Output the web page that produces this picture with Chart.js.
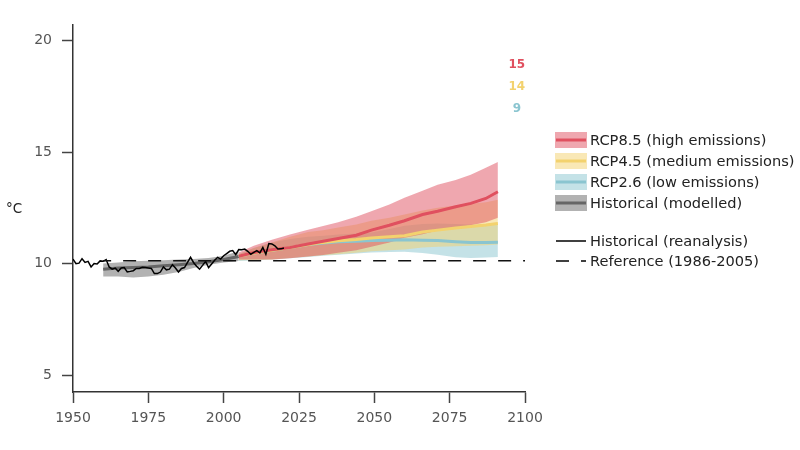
<!DOCTYPE html>
<html>
<head>
<meta charset="utf-8">
<script src="https://cdn.jsdelivr.net/npm/chart.js@4"></script>
<style>
    html, body { margin: 0; padding: 0; background: #fff; }
    canvas { display: block; }
</style>
</head>
<body>
<canvas id="chart" width="800" height="450"></canvas>
<script>
const xTickLabels = [1950, 1975, 2000, 2025, 2050, 2075, 2100];
const yTickLabels = [5, 10, 15, 20];

const reanalysisStart = 1950;
const reanalysis = [10.2, 10.0, 10.02, 10.22, 10.05, 10.1, 9.85, 10.0, 9.98, 10.12,
    10.1, 10.18, 9.85, 9.75, 9.8, 9.65, 9.8, 9.82, 9.63, 9.65,
    9.68, 9.78, 9.78, 9.83, 9.82, 9.8, 9.78, 9.55, 9.55, 9.62,
    9.85, 9.72, 9.75, 9.95, 9.8, 9.62, 9.78, 9.82, 10.05, 10.28,
    10.05, 9.88, 9.75, 9.92, 10.1, 9.82, 9.98, 10.15, 10.28, 10.2,
    10.35, 10.45, 10.55, 10.58, 10.4, 10.63, 10.62, 10.65, 10.55, 10.42,
    10.5, 10.58, 10.48, 10.72, 10.42, 10.9, 10.88, 10.8, 10.65, 10.66, 10.7];

const histYears = [1960, 1965, 1970, 1975, 1980, 1985, 1990, 1995, 2000, 2005];
const histMean = [9.75, 9.8, 9.82, 9.85, 9.9, 9.95, 10.0, 10.08, 10.18, 10.32];
const histUpper = [10.0, 10.05, 10.1, 10.13, 10.15, 10.18, 10.2, 10.25, 10.35, 10.55];
const histLower = [9.42, 9.42, 9.38, 9.42, 9.5, 9.62, 9.8, 9.95, 10.05, 10.12];

const rcpYears = [2005, 2010, 2016, 2022, 2028, 2033, 2038, 2044, 2049, 2055, 2060, 2066, 2071, 2077, 2082, 2087, 2091];
const rcp85Mean = [10.33, 10.5, 10.62, 10.72, 10.88, 11.0, 11.12, 11.27, 11.5, 11.72, 11.92, 12.2, 12.35, 12.55, 12.7, 12.92, 13.22];
const rcp85Upper = [10.5, 10.8, 11.07, 11.3, 11.52, 11.68, 11.85, 12.1, 12.35, 12.65, 12.95, 13.27, 13.53, 13.75, 13.98, 14.3, 14.56];
const rcp85Lower = [10.18, 10.18, 10.18, 10.24, 10.32, 10.38, 10.48, 10.6, 10.76, 10.95, 11.16, 11.32, 11.48, 11.62, 11.72, 11.85, 12.05];
const rcp45Mean = [10.33, 10.47, 10.6, 10.72, 10.85, 10.95, 11.02, 11.08, 11.15, 11.2, 11.25, 11.42, 11.5, 11.6, 11.66, 11.73, 11.8];
const rcp45Upper = [10.42, 10.7, 10.95, 11.2, 11.42, 11.5, 11.62, 11.75, 11.92, 12.05, 12.2, 12.38, 12.5, 12.6, 12.68, 12.75, 12.86];
const rcp45Lower = [10.15, 10.16, 10.18, 10.25, 10.32, 10.37, 10.42, 10.48, 10.55, 10.6, 10.63, 10.72, 10.76, 10.78, 10.8, 10.82, 10.85];
const rcp26Mean = [10.33, 10.47, 10.6, 10.72, 10.85, 10.92, 10.98, 11.0, 11.03, 11.05, 11.07, 11.05, 11.03, 10.98, 10.94, 10.94, 10.96];
const rcp26Upper = [10.42, 10.7, 10.95, 11.1, 11.2, 11.25, 11.3, 11.35, 11.39, 11.55, 11.7, 11.78, 11.8, 11.78, 11.75, 11.75, 11.75];
const rcp26Lower = [10.12, 10.14, 10.18, 10.24, 10.3, 10.35, 10.4, 10.45, 10.5, 10.52, 10.53, 10.47, 10.4, 10.28, 10.25, 10.27, 10.3];

const referenceYears = [1960, 2100];
const referenceValues = [10.13, 10.13];

const modelCounts = ['15', '14', '9'];
const countYears = [2097.3, 2097.3, 2097.3];
const countValues = [18.92, 17.92, 16.92];

const red = '#e0505f', redBand = 'rgba(224,80,95,0.5)';
const yellow = '#f3d26e', yellowBand = 'rgba(243,210,110,0.5)';
const teal = '#8ac5d0', tealBand = 'rgba(138,197,208,0.5)';
const grey = '#666666', greyBand = 'rgba(102,102,102,0.5)';
const countColors = [red, yellow, teal];

const legendRows = [
    { label: 'RCP8.5 (high emissions)', y: 140, band: redBand, line: red },
    { label: 'RCP4.5 (medium emissions)', y: 161, band: yellowBand, line: yellow },
    { label: 'RCP2.6 (low emissions)', y: 182, band: tealBand, line: teal },
    { label: 'Historical (modelled)', y: 203, band: greyBand, line: grey },
    { label: 'Historical (reanalysis)', y: 241, line: '#000', thin: true },
    { label: 'Reference (1986-2005)', y: 261, line: '#000', thin: true, dash: [13, 12] }
];

const font = '"DejaVu Sans"';
const tickGrey = '#444';
const labelGrey = '#555';

function points(years, values) {
    return years.map((year, i) => ({ x: year, y: values[i] }));
}

function bandSets(years, upper, lower, color) {
    return [
        { data: points(years, upper), borderWidth: 0, pointRadius: 0, backgroundColor: color, fill: '+1' },
        { data: points(years, lower), borderWidth: 0, pointRadius: 0, fill: false }
    ];
}

function meanSet(years, values, color) {
    return { data: points(years, values), borderColor: color, borderWidth: 3, pointRadius: 0, fill: false, tension: 0 };
}

const overlayPlugin = {
    id: 'overlay',
    afterDraw(chart) {
        const { ctx, scales } = chart;
        ctx.save();

        // model counts
        ctx.font = 'bold 12px ' + font;
        ctx.textAlign = 'center';
        ctx.textBaseline = 'middle';
        modelCounts.forEach((text, i) => {
            ctx.fillStyle = countColors[i];
            ctx.fillText(text, scales.x.getPixelForValue(countYears[i]), scales.y.getPixelForValue(countValues[i]));
        });

        // legend
        ctx.font = '14.6px ' + font;
        ctx.textAlign = 'left';
        legendRows.forEach(row => {
            if (row.band) {
                ctx.fillStyle = row.band;
                ctx.fillRect(555, row.y - 8, 32, 16);
            }
            ctx.strokeStyle = row.line;
            ctx.lineWidth = row.thin ? 1.5 : 3;
            ctx.setLineDash(row.dash || []);
            ctx.beginPath();
            ctx.moveTo(556, row.y);
            ctx.lineTo(586, row.y);
            ctx.stroke();
            ctx.setLineDash([]);
            ctx.fillStyle = '#222';
            ctx.fillText(row.label, 590, row.y + 1);
        });

        // y unit
        ctx.fillStyle = '#222';
        ctx.font = '13.5px ' + font;
        ctx.textAlign = 'center';
        ctx.fillText('°C', 14, 209);
        ctx.restore();
    }
};

new Chart(document.getElementById('chart').getContext('2d'), {
    type: 'line',
    data: {
        datasets: [
            { data: points(referenceYears, referenceValues), borderColor: '#111', borderWidth: 1.5, borderDash: [13, 12], borderDashOffset: 5, pointRadius: 0, fill: false },
            { data: reanalysis.map((v, i) => ({ x: reanalysisStart + i, y: v })), borderColor: '#000', borderWidth: 1.5, pointRadius: 0, fill: false },
            meanSet(rcpYears, rcp85Mean, red),
            meanSet(rcpYears, rcp45Mean, yellow),
            meanSet(rcpYears, rcp26Mean, teal),
            meanSet(histYears, histMean, grey),
            ...bandSets(rcpYears, rcp85Upper, rcp85Lower, redBand),
            ...bandSets(rcpYears, rcp45Upper, rcp45Lower, yellowBand),
            ...bandSets(rcpYears, rcp26Upper, rcp26Lower, tealBand),
            ...bandSets(histYears, histUpper, histLower, greyBand)
        ]
    },
    options: {
        responsive: false,
        animation: false,
        layout: { padding: { top: 25, right: 275, left: 0, bottom: 0 } },
        plugins: { legend: { display: false }, tooltip: { enabled: false } },
        scales: {
            x: {
                type: 'linear',
                min: 1950,
                max: 2100,
                afterBuildTicks: scale => { scale.ticks = xTickLabels.map(v => ({ value: v })); },
                afterFit: scale => { scale.height = 58; },
                border: { color: '#333', width: 1.5 },
                grid: { drawOnChartArea: false, tickColor: tickGrey, tickLength: 11, tickWidth: 1.5 },
                ticks: { color: labelGrey, font: { family: font, size: 14 }, maxRotation: 0, padding: 7, callback: v => String(v) }
            },
            y: {
                min: 4.24,
                max: 20.7,
                afterBuildTicks: scale => { scale.ticks = yTickLabels.map(v => ({ value: v })); },
                afterFit: scale => { scale.width = 73; },
                border: { color: '#333', width: 1.5 },
                grid: { drawOnChartArea: false, tickColor: tickGrey, tickLength: 11, tickWidth: 1.5 },
                ticks: { color: labelGrey, font: { family: font, size: 14 }, padding: 10, callback: v => String(v) }
            }
        }
    },
    plugins: [overlayPlugin]
});
</script>
</body>
</html>
